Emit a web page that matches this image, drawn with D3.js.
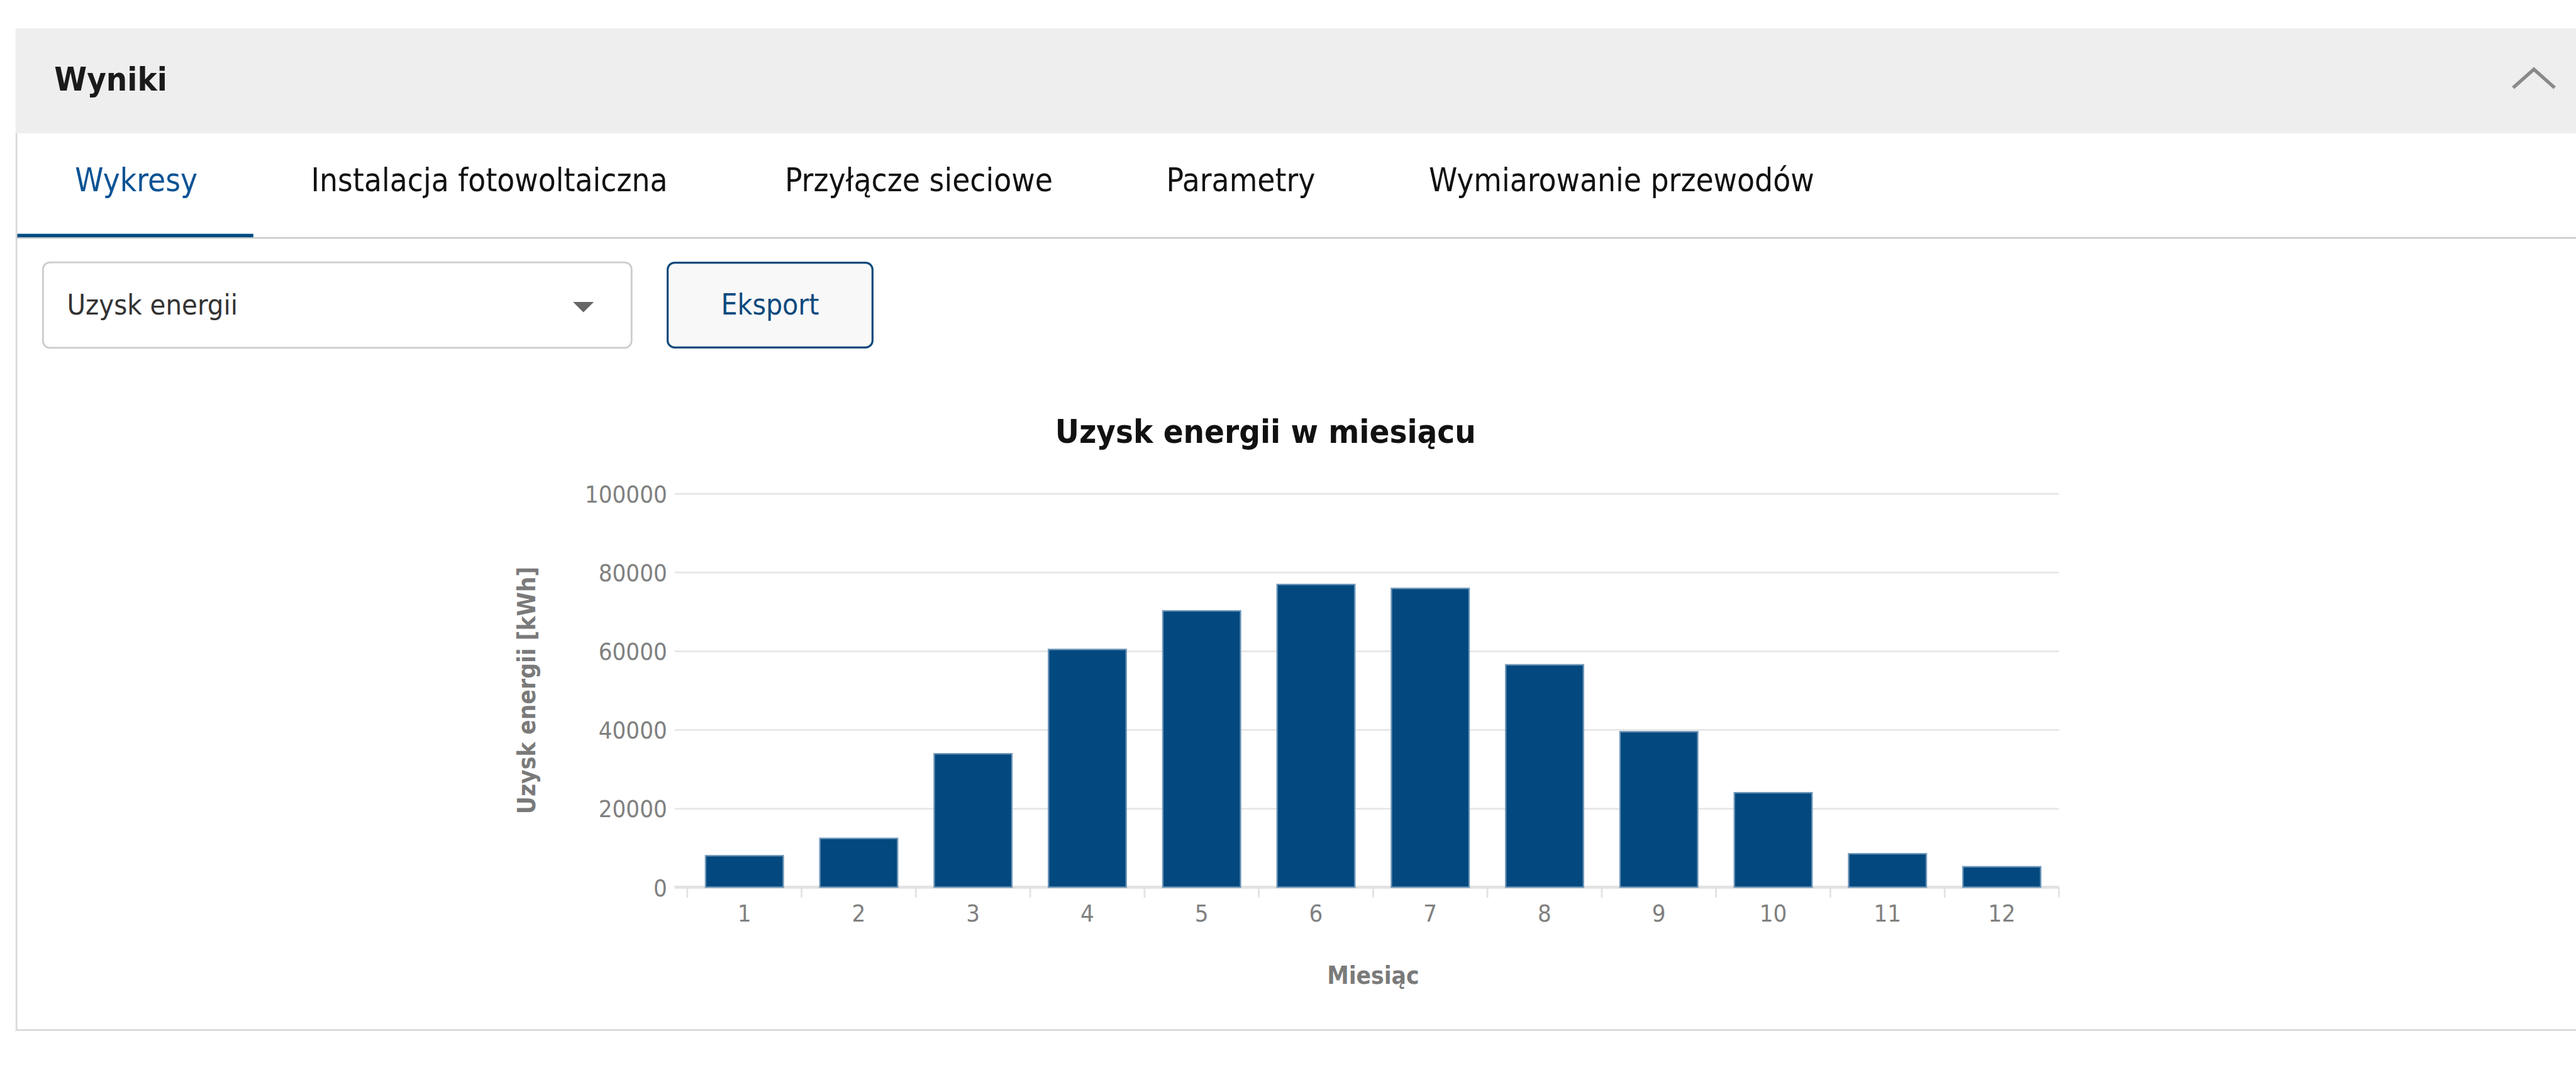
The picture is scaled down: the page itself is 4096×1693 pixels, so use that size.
<!DOCTYPE html>
<html><head><meta charset="utf-8">
<script src="https://cdn.jsdelivr.net/npm/d3@7"></script>
<style>html,body{margin:0;padding:0;background:#fff;overflow:hidden}</style>
</head><body>
<svg id="c" width="4096" height="1693" viewBox="0 0 4464 1845"></svg>
<script>
// ---- data ----
const months = ["1","2","3","4","5","6","7","8","9","10","11","12"];
const energy = [8000, 12400, 33900, 60400, 70200, 76900, 75900, 56500, 39500, 24000, 8500, 5200];
const yTicks = [0, 20000, 40000, 60000, 80000, 100000];
const tabs = ["Wykresy", "Instalacja fotowoltaiczna", "Przyłącze sieciowe", "Parametry", "Wymiarowanie przewodów"];
const panelTitle = "Wyniki";
const selectLabel = "Uzysk energii";
const buttonLabel = "Eksport";
const chartTitle = "Uzysk energii w miesiącu";
const yTitle = "Uzysk energii [kWh]";
const xTitle = "Miesiąc";

// ---- layout (reference pixel units; viewBox scales to window) ----
const FONT = '"DejaVu Sans Condensed", "Liberation Sans", sans-serif';
const tabX = [130, 539, 1360, 2021, 2476];
const plot = {left: 1191, right: 3568, top: 855, bottom: 1537, gridLeft: 1169};

const svg = d3.select("#c").style("font-family", FONT);

// panel header
svg.append("rect").attr("x", 27).attr("y", 49).attr("width", 4464 - 27).attr("height", 182).attr("fill", "#eeeeee");
svg.append("text").attr("x", 94).attr("y", 157).text(panelTitle)
  .attr("font-size", 57).attr("font-weight", "bold").attr("fill", "#1a1a1a");
svg.append("polyline").attr("points", "4355,152 4391,120 4427,152")
  .attr("fill", "none").attr("stroke", "#8a8a8a").attr("stroke-width", 6);

// panel borders
svg.append("line").attr("x1", 28.5).attr("x2", 28.5).attr("y1", 231).attr("y2", 1786)
  .attr("stroke", "#d9d9d9").attr("stroke-width", 3);
svg.append("line").attr("x1", 27).attr("x2", 4464).attr("y1", 1784.5).attr("y2", 1784.5)
  .attr("stroke", "#d9d9d9").attr("stroke-width", 3);

// tabs
svg.append("line").attr("x1", 28).attr("x2", 4464).attr("y1", 412).attr("y2", 412)
  .attr("stroke", "#cccccc").attr("stroke-width", 3);
svg.append("rect").attr("x", 30).attr("y", 405).attr("width", 409).attr("height", 6).attr("fill", "#004b82");
svg.selectAll("text.tab").data(tabs).join("text").attr("class", "tab")
  .attr("x", (d, i) => tabX[i]).attr("y", 331)
  .attr("font-size", 55.5)
  .attr("fill", (d, i) => i === 0 ? "#0b5394" : "#111111")
  .text(d => d);

// dropdown
svg.append("rect").attr("x", 74.5).attr("y", 454.5).attr("width", 1020).attr("height", 148).attr("rx", 12)
  .attr("fill", "#fff").attr("stroke", "#cccccc").attr("stroke-width", 3);
svg.append("text").attr("x", 116).attr("y", 545).attr("font-size", 49).attr("fill", "#333").text(selectLabel);
svg.append("path").attr("d", "M993,523 L1029,523 L1011,541 Z").attr("fill", "#666");

// button
svg.append("rect").attr("x", 1157).attr("y", 455).attr("width", 355).attr("height", 147).attr("rx", 12)
  .attr("fill", "#f8f8f8").attr("stroke", "#0e4a7d").attr("stroke-width", 3.5);
svg.append("text").attr("x", 1334.5).attr("y", 545).attr("text-anchor", "middle")
  .attr("font-size", 50).attr("fill", "#0d4a7e").text(buttonLabel);

// ---- chart ----
const x = d3.scaleBand().domain(months).range([plot.left, plot.right]).paddingInner(0.32).paddingOuter(0.16);
const xEdge = d3.scaleBand().domain(months).range([plot.left, plot.right]).padding(0);
const y = d3.scaleLinear().domain([0, 100000]).range([plot.bottom, plot.top]);

svg.append("text").attr("x", 2193).attr("y", 767).attr("text-anchor", "middle")
  .attr("font-size", 57).attr("font-weight", "bold").attr("fill", "#111").text(chartTitle);

// y axis with gridlines
const yAxis = svg.append("g").attr("transform", `translate(${plot.gridLeft},0)`)
  .call(d3.axisLeft(y).tickValues(yTicks).tickFormat(d3.format("d"))
    .tickSize(-(plot.right - plot.gridLeft)).tickPadding(13));
yAxis.select(".domain").remove();
yAxis.selectAll(".tick line").attr("stroke", "#e6e6e6").attr("stroke-width", 3);
yAxis.selectAll(".tick text").attr("fill", "#808080").attr("font-size", 41.5)
  .attr("font-family", FONT).attr("dy", "0.36em");

// x axis baseline + category boundary ticks
svg.append("line").attr("x1", plot.gridLeft).attr("x2", plot.right).attr("y1", y(0)).attr("y2", y(0))
  .attr("stroke", "#e2e2e2").attr("stroke-width", 5);
const edges = months.map(m => xEdge(m)).concat([xEdge(months[months.length - 1]) + xEdge.bandwidth()]);
svg.selectAll("line.xtick").data(edges).join("line").attr("class", "xtick")
  .attr("x1", d => d).attr("x2", d => d).attr("y1", y(0)).attr("y2", y(0) + 18)
  .attr("stroke", "#e2e2e2").attr("stroke-width", 3);

// bars
svg.selectAll("rect.bar").data(energy).join("rect").attr("class", "bar")
  .attr("x", (d, i) => x(months[i])).attr("width", x.bandwidth())
  .attr("y", d => y(d)).attr("height", d => y(0) - y(d))
  .attr("fill", "#03497f").attr("stroke", "#6f97b9").attr("stroke-width", 2.5);

// x labels
const xAxis = svg.append("g").attr("transform", `translate(0,${plot.bottom})`)
  .call(d3.axisBottom(x).tickSize(0).tickPadding(0));
xAxis.select(".domain").remove();
xAxis.selectAll(".tick text").attr("y", 60).attr("dy", 0).attr("fill", "#808080")
  .attr("font-size", 41.5).attr("font-family", FONT);

// axis titles
svg.append("text").attr("transform", `translate(928,${(plot.top + plot.bottom) / 2}) rotate(-90)`)
  .attr("text-anchor", "middle").attr("font-size", 42).attr("font-weight", "bold").attr("fill", "#7a7a7a").text(yTitle);
svg.append("text").attr("x", (plot.left + plot.right) / 2).attr("y", 1705).attr("text-anchor", "middle")
  .attr("font-size", 42).attr("font-weight", "bold").attr("fill", "#7a7a7a").text(xTitle);
</script>
</body></html>
